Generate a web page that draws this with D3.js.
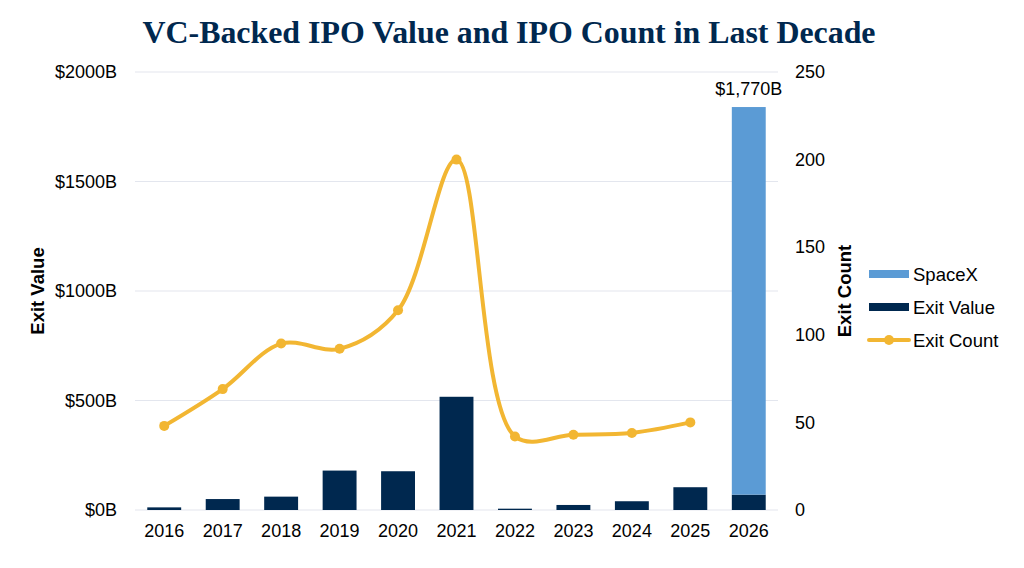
<!DOCTYPE html>
<html>
<head>
<meta charset="utf-8">
<script src="https://cdn.jsdelivr.net/npm/d3@7"></script>
<style>
  body { margin: 0; background: #fff; }
  text { font-family: "Liberation Sans", Arial, sans-serif; fill: #000; }
</style>
</head>
<body>
<div id="chart"></div>
<script>
// CONSTANTS
const WIDTH = 1024;
const HEIGHT = 568;
const NAVY = "#00284f";
const SKY = "#5b9bd5";
const GOLD = "#f2b632";

// DATA
const years = ["2016", "2017", "2018", "2019", "2020", "2021", "2022", "2023", "2024", "2025", "2026"];
const exitValue = [12, 50, 61, 180, 177, 517, 6, 23, 40, 104, 70];
const spaceX = [0, 0, 0, 0, 0, 0, 0, 0, 0, 0, 1770];
const exitCount = [48, 69, 95, 92, 114, 200, 42, 43, 44, 50];
const valueTicks = [0, 500, 1000, 1500, 2000];
const countTicks = [0, 50, 100, 150, 200, 250];

const margin = { left: 135, right: 246, top: 72, bottom: 58 };

const svg = d3.select("#chart")
  .append("svg")
  .attr("width", WIDTH)
  .attr("height", HEIGHT);

const x = d3.scaleBand()
  .domain(years)
  .range([margin.left, WIDTH - margin.right])
  .paddingInner(0.42)
  .paddingOuter(0.21);

const yValue = d3.scaleLinear().domain([0, 2000]).range([HEIGHT - margin.bottom, margin.top]);
const yCount = d3.scaleLinear().domain([0, 250]).range([HEIGHT - margin.bottom, margin.top]);

// title
svg.append("text")
  .attr("x", 509)
  .attr("y", 43)
  .attr("text-anchor", "middle")
  .style("font-family", "'Liberation Serif', 'DejaVu Serif', serif")
  .style("font-weight", "bold")
  .style("font-size", "32px")
  .style("fill", NAVY)
  .attr("textLength", 733)
  .attr("lengthAdjust", "spacingAndGlyphs")
  .text("VC-Backed IPO Value and IPO Count in Last Decade");

// gridlines
svg.append("g")
  .selectAll("line")
  .data(valueTicks)
  .enter()
  .append("line")
  .attr("x1", margin.left)
  .attr("x2", WIDTH - margin.right)
  .attr("y1", d => yValue(d))
  .attr("y2", d => yValue(d))
  .attr("stroke", "#e3e6ee")
  .attr("stroke-width", 1.2);

// axes
const leftAxis = svg.append("g")
  .attr("transform", `translate(${margin.left},0)`)
  .call(d3.axisLeft(yValue).tickValues(valueTicks).tickSize(0).tickPadding(18).tickFormat(d => `$${d}B`));
const rightAxis = svg.append("g")
  .attr("transform", `translate(${WIDTH - margin.right},0)`)
  .call(d3.axisRight(yCount).tickValues(countTicks).tickSize(0).tickPadding(17));
const bottomAxis = svg.append("g")
  .attr("transform", `translate(0,${HEIGHT - margin.bottom})`)
  .call(d3.axisBottom(x).tickSize(0).tickPadding(14));

[leftAxis, rightAxis, bottomAxis].forEach(g => {
  g.select(".domain").remove();
  g.selectAll("text").style("font-size", "18px").style("font-family", "'Liberation Sans', Arial, sans-serif");
});

// axis titles
svg.append("text")
  .attr("transform", "translate(44,291) rotate(-90)")
  .attr("text-anchor", "middle")
  .style("font-weight", "bold")
  .style("font-size", "18.5px")
  .text("Exit Value");
svg.append("text")
  .attr("transform", "translate(851,291) rotate(-90)")
  .attr("text-anchor", "middle")
  .style("font-weight", "bold")
  .style("font-size", "18.5px")
  .text("Exit Count");

// bars
const stacked = years.map((yr, i) => ({ year: yr, value: exitValue[i], spacex: spaceX[i] }));

svg.append("g")
  .selectAll("rect")
  .data(stacked)
  .enter()
  .append("rect")
  .attr("x", d => x(d.year))
  .attr("width", x.bandwidth())
  .attr("y", d => yValue(d.value))
  .attr("height", d => yValue(0) - yValue(d.value))
  .attr("fill", NAVY);

svg.append("g")
  .selectAll("rect")
  .data(stacked.filter(d => d.spacex > 0))
  .enter()
  .append("rect")
  .attr("x", d => x(d.year))
  .attr("width", x.bandwidth())
  .attr("y", d => yValue(d.value + d.spacex))
  .attr("height", d => yValue(d.value) - yValue(d.value + d.spacex))
  .attr("fill", SKY);

svg.append("g")
  .selectAll("text")
  .data(stacked.filter(d => d.spacex > 0))
  .enter()
  .append("text")
  .attr("x", d => x(d.year) + x.bandwidth() / 2)
  .attr("y", d => yValue(d.value + d.spacex) - 12)
  .attr("text-anchor", "middle")
  .style("font-size", "18px")
  .text(d => `$${d3.format(",")(d.spacex)}B`);

// line
const countPoints = exitCount.map((c, i) => ({ year: years[i], count: c }));
const line = d3.line()
  .x(d => x(d.year) + x.bandwidth() / 2)
  .y(d => yCount(d.count))
  .curve(d3.curveCatmullRom.alpha(0.5));

svg.append("path")
  .datum(countPoints)
  .attr("d", line)
  .attr("fill", "none")
  .attr("stroke", GOLD)
  .attr("stroke-width", 4)
  .attr("stroke-linecap", "round");

svg.append("g")
  .selectAll("circle")
  .data(countPoints)
  .enter()
  .append("circle")
  .attr("cx", d => x(d.year) + x.bandwidth() / 2)
  .attr("cy", d => yCount(d.count))
  .attr("r", 5)
  .attr("fill", GOLD);

// legend
const legendItems = [
  { label: "SpaceX", color: SKY, kind: "bar" },
  { label: "Exit Value", color: NAVY, kind: "bar" },
  { label: "Exit Count", color: GOLD, kind: "line" }
];
const legend = svg.append("g").attr("transform", "translate(869,274)");
const item = legend.selectAll("g")
  .data(legendItems)
  .enter()
  .append("g")
  .attr("transform", (d, i) => `translate(0,${i * 33})`);

item.filter(d => d.kind === "bar")
  .append("rect")
  .attr("x", 0).attr("y", -4).attr("width", 40).attr("height", 8)
  .attr("fill", d => d.color);
item.filter(d => d.kind === "line")
  .append("line")
  .attr("x1", 0).attr("x2", 40).attr("y1", 0).attr("y2", 0)
  .attr("stroke", d => d.color).attr("stroke-width", 4).attr("stroke-linecap", "round");
item.filter(d => d.kind === "line")
  .append("circle")
  .attr("cx", 20).attr("cy", 0).attr("r", 5)
  .attr("fill", d => d.color);
item.append("text")
  .attr("x", 44)
  .attr("y", 6.5)
  .style("font-size", "18.5px")
  .text(d => d.label);
</script>
</body>
</html>
